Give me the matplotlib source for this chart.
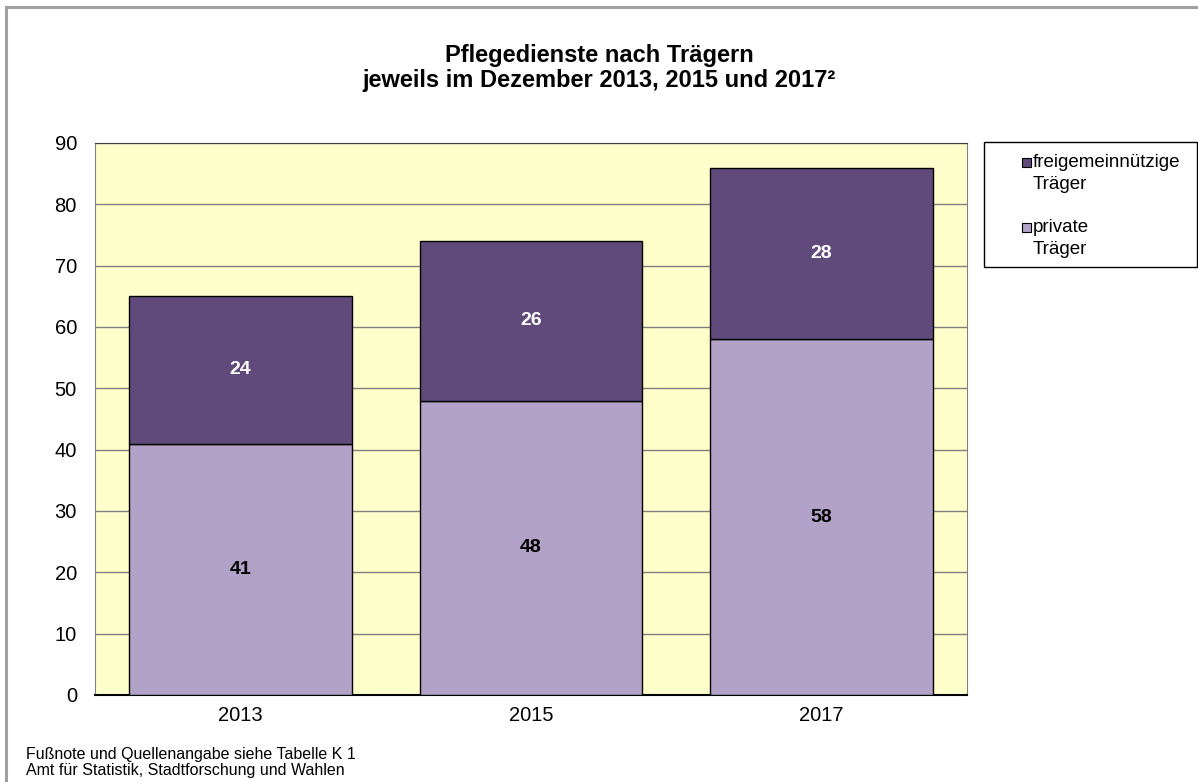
import matplotlib.pyplot as plt
from matplotlib.lines import Line2D
from matplotlib.patches import Rectangle

plt.rcParams['font.family'] = ['Liberation Sans', 'DejaVu Sans']

jahre = ["2013", "2015", "2017"]
private = [41, 48, 58]
freigemeinnuetzig = [24, 26, 28]

farbe_privat = "#b3a2c7"
farbe_frei = "#604a7b"

W, H = 1198, 782
fig = plt.figure(figsize=(W / 100, H / 100), dpi=100)


def fx(px):
    return px / W


def fy(py):
    return 1 - py / H


# Rahmen links und oben
fig.add_artist(Line2D([fx(6), fx(6)], [0, fy(7)], color="#a0a0a0", lw=2.2))
fig.add_artist(Line2D([fx(6), 1], [fy(7), fy(7)], color="#a0a0a0", lw=2.2))

ax = fig.add_axes([fx(95), fy(695), fx(967) - fx(95), fy(143) - fy(695)])
ax.set_facecolor("#ffffcc")

x = range(len(jahre))
ax.bar(x, private, width=0.766, color=farbe_privat, edgecolor="black", lw=1, zorder=3)
ax.bar(x, freigemeinnuetzig, bottom=private, width=0.766, color=farbe_frei,
       edgecolor="black", lw=1, zorder=3)

for i in x:
    ax.text(i, private[i] / 2, str(private[i]), ha="center", va="center",
            fontsize=14, fontweight="bold", color="black", zorder=4)
    ax.text(i, private[i] + freigemeinnuetzig[i] / 2, str(freigemeinnuetzig[i]),
            ha="center", va="center", fontsize=14, fontweight="bold", color="white", zorder=4)

ax.set_xlim(-0.5, 2.5)
ax.set_ylim(0, 90)
ax.set_yticks(range(0, 91, 10))
ax.set_xticks(list(x))
ax.set_xticklabels(jahre)
ax.tick_params(axis="both", length=0, labelsize=14.5)
ax.tick_params(axis="x", pad=8)
ax.tick_params(axis="y", pad=13)
ax.yaxis.grid(True, color="#808080", lw=1, zorder=0)
for s in ["left", "right"]:
    ax.spines[s].set_color("#808080")
ax.spines["top"].set_color("#404040")
ax.spines["bottom"].set_color("black")
ax.spines["bottom"].set_linewidth(1.5)

# Titel
fig.text(0.5, fy(62), "Pflegedienste nach Trägern", ha="center", va="baseline",
         fontsize=17, fontweight="bold")
fig.text(0.5, fy(87), "jeweils im Dezember 2013, 2015 und 2017²",
         ha="center", va="baseline", fontsize=17, fontweight="bold")

# Legende
fig.add_artist(Rectangle((fx(984), fy(267)), fx(1197) - fx(984), fy(142) - fy(267),
                         transform=fig.transFigure, facecolor="white",
                         edgecolor="black", lw=1))
eintraege = [(farbe_frei, ["freigemeinnützige", "Träger"], 167),
             (farbe_privat, ["private", "Träger"], 232)]
for farbe, zeilen, basis in eintraege:
    fig.add_artist(Rectangle((fx(1022), fy(basis)), fx(9), 9 / H,
                             transform=fig.transFigure, facecolor=farbe,
                             edgecolor="black", lw=0.8))
    for k, zeile in enumerate(zeilen):
        fig.text(fx(1033), fy(basis + 22 * k), zeile, ha="left", va="baseline",
                 fontsize=13.5)

# Fußnote
fig.text(fx(26), fy(755), "Fußnote und Quellenangabe siehe Tabelle K 1",
         ha="left", va="center", fontsize=11.5)
fig.text(fx(26), fy(770), "Amt für Statistik, Stadtforschung und Wahlen",
         ha="left", va="center", fontsize=11.5)

fig.savefig("out.png", dpi=100)
